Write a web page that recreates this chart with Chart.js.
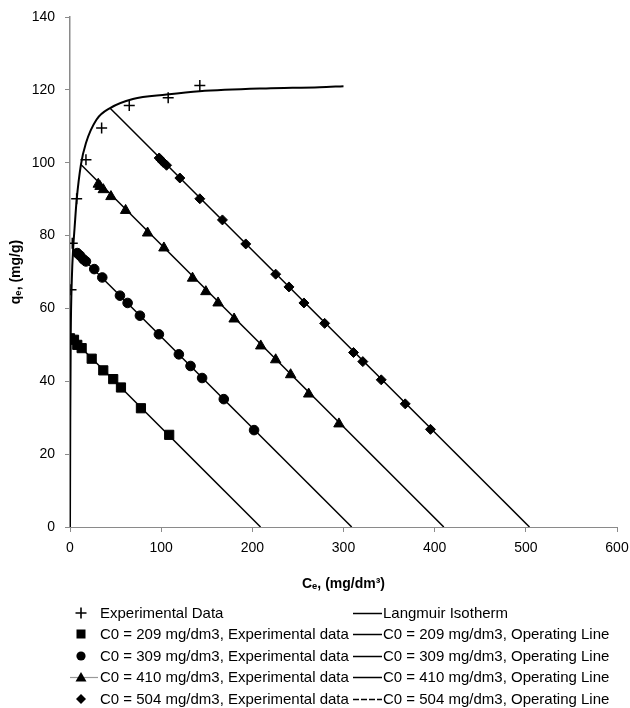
<!DOCTYPE html>
<html>
<head>
<meta charset="utf-8">
<title>Langmuir isotherm and operating lines</title>
<script src="https://cdn.jsdelivr.net/npm/chart.js@4.4.1/dist/chart.umd.min.js"></script>
<style>
  body { margin: 0; background: #fff; font-family: "Liberation Sans", Arial, sans-serif; }
  #wrap { position: relative; width: 630px; height: 708px; }
  #chart-box { position: absolute; left: 0; top: 0; width: 630px; height: 600px; }
  #legend { position: absolute; left: 0; top: 0; width: 630px; height: 708px; pointer-events: none; }
  .item { position: absolute; height: 22px; line-height: 22px; font-size: 15px; color: #000; white-space: nowrap; }
  .item svg { position: absolute; top: 0; }
</style>
</head>
<body>
<div id="wrap">
  <div id="chart-box"><canvas id="isotherm"></canvas></div>
  <div id="legend"></div>
</div>
<script>
// === DATOS ===
const xTicks = [0, 100, 200, 300, 400, 500, 600];
const yTicks = [0, 20, 40, 60, 80, 100, 120, 140];

// Experimental data (isotherm)
const isoExpC = [1.1, 2.5, 7.3, 17.5, 34.7, 65, 107.7, 142.4];
const isoExpQ = [65.1, 77.9, 90.1, 100.8, 109.5, 115.7, 117.8, 121.2];

// Langmuir isotherm curve
const langC = [0, 0.3, 0.8, 2, 3.6, 5, 7.3, 12, 17.5, 29, 44, 69, 106, 142, 215, 274, 300];
const langQ = [0, 30, 52, 68, 77, 82, 89.8, 99.5, 105.4, 111.8, 115, 117.5, 118.7, 119.6, 120.4, 120.7, 121];

// C0 = 209
const exp209C = [0, 4.4, 8, 12.8, 23.8, 36.5, 47.4, 55.9, 77.8, 108.8];
const exp209Q = [51.8, 51.4, 50, 49.1, 46.2, 43, 40.6, 38.3, 32.6, 25.3];
const op209C = [0.8, 209];
const op209Q = [52.1, 0];

// C0 = 309
const exp309C = [8, 11, 14.6, 17.5, 26.6, 35.4, 54.8, 63.2, 76.7, 97.5, 119.4, 132.2, 144.9, 168.7, 201.9];
const exp309Q = [75.2, 74.5, 73.5, 72.9, 70.8, 68.5, 63.5, 61.5, 58, 52.9, 47.4, 44.2, 40.9, 35.1, 26.6];
const op309C = [4.4, 309];
const op309Q = [76.1, 0];

// C0 = 410
const exp410C = [31, 32.9, 36.5, 44.9, 61, 85.1, 103, 134.4, 149, 162.4, 180, 209.2, 225.6, 242, 261.8, 295];
const exp410Q = [94.1, 93.5, 92.6, 90.7, 86.9, 80.7, 76.6, 68.3, 64.6, 61.5, 57.1, 49.7, 45.9, 41.8, 36.5, 28.3];
const op410C = [11.7, 410];
const op410Q = [99.6, 0];

// C0 = 504
const exp504C = [97.8, 100, 102.2, 105.9, 120.5, 142.4, 167.2, 192.8, 225.6, 240.2, 256.6, 279.3, 311, 321.2, 341.4, 367.7, 395.4];
const exp504Q = [101.3, 100.7, 100.1, 99.3, 95.8, 90.1, 84.3, 77.7, 69.4, 65.9, 61.5, 55.9, 47.9, 45.4, 40.4, 33.8, 26.8];
const op504C = [43.8, 504];
const op504Q = [115, 0];

function toXY(cs, qs) {
    return cs.map((c, i) => ({ x: c, y: qs[i] }));
}

function markers(label, cs, qs, style, radius) {
    return {
        label: label,
        data: toXY(cs, qs),
        showLine: false,
        pointStyle: style,
        pointRadius: radius,
        pointHoverRadius: radius,
        pointBackgroundColor: '#000',
        pointBorderColor: '#000',
        pointBorderWidth: style === 'cross' ? 1.5 : 1,
        order: 0
    };
}

function line(label, cs, qs, width) {
    return {
        label: label,
        data: toXY(cs, qs),
        showLine: true,
        borderColor: '#000',
        borderWidth: width,
        pointRadius: 0,
        pointHoverRadius: 0,
        fill: false,
        order: 1
    };
}

const langmuir = line('Langmuir Isotherm', langC, langQ, 2);
langmuir.cubicInterpolationMode = 'monotone';

const datasets = [
    markers('Experimental Data', isoExpC, isoExpQ, 'cross', 5.5),
    langmuir,
    markers('C0 = 209 mg/dm3, Experimental data', exp209C, exp209Q, 'rect', 6.5),
    line('C0 = 209 mg/dm3, Operating Line', op209C, op209Q, 1.5),
    markers('C0 = 309 mg/dm3, Experimental data', exp309C, exp309Q, 'circle', 4.8),
    line('C0 = 309 mg/dm3, Operating Line', op309C, op309Q, 1.5),
    markers('C0 = 410 mg/dm3, Experimental data', exp410C, exp410Q, 'triangle', 6),
    line('C0 = 410 mg/dm3, Operating Line', op410C, op410Q, 1.5),
    markers('C0 = 504 mg/dm3, Experimental data', exp504C, exp504Q, 'rectRot', 5),
    line('C0 = 504 mg/dm3, Operating Line', op504C, op504Q, 1.5)
];

const axisGray = '#8a8a8a';
const fontFam = '"Liberation Sans", Arial, sans-serif';

const chart = new Chart(document.getElementById('isotherm'), {
    type: 'scatter',
    data: { datasets: datasets },
    options: {
        responsive: true,
        maintainAspectRatio: false,
        animation: false,
        layout: { padding: { top: 17, right: 13, left: 0, bottom: 0 } },
        scales: {
            x: {
                type: 'linear',
                min: xTicks[0],
                max: xTicks[xTicks.length - 1],
                afterBuildTicks: (s) => { s.ticks = xTicks.map(v => ({ value: v })); },
                afterFit: (s) => { s.height = 73; s.paddingLeft = 0; s.paddingRight = 0; },
                grid: { drawOnChartArea: false, drawTicks: true, tickLength: 5, color: axisGray },
                border: { color: axisGray, width: 1 },
                ticks: { color: '#000', padding: 8, font: { family: fontFam, size: 14 } },
                title: {
                    display: true,
                    text: 'Cₑ, (mg/dm³)',
                    color: '#000',
                    font: { family: fontFam, size: 14, weight: 'bold' },
                    padding: { top: 0, bottom: 7 }
                }
            },
            y: {
                type: 'linear',
                min: yTicks[0],
                max: yTicks[yTicks.length - 1],
                afterBuildTicks: (s) => { s.ticks = yTicks.map(v => ({ value: v })); },
                afterFit: (s) => { s.width = 70; s.paddingTop = 0; s.paddingBottom = 0; },
                grid: { drawOnChartArea: false, drawTicks: true, tickLength: 5, color: axisGray },
                border: { color: axisGray, width: 1.5 },
                ticks: { color: '#000', padding: 10, font: { family: fontFam, size: 14 } },
                title: {
                    display: true,
                    text: 'qₑ, (mg/g)',
                    color: '#000',
                    font: { family: fontFam, size: 14, weight: 'bold' },
                    padding: { top: 8, bottom: 0 }
                }
            }
        },
        plugins: {
            legend: { display: false },
            tooltip: { enabled: false }
        }
    }
});

// === LEYENDA EN HTML (dos columnas) ===
function markerSvg(style) {
    let shape = '';
    if (style === 'cross') {
        shape = '<path d="M9 5.5V16.5M3.5 11H14.5" stroke="#000" stroke-width="1.6"/>';
    } else if (style === 'rect') {
        shape = '<rect x="4.5" y="6.5" width="9" height="9" fill="#000"/>';
    } else if (style === 'circle') {
        shape = '<circle cx="9" cy="11" r="4.6" fill="#000"/>';
    } else if (style === 'triangle') {
        shape = '<path d="M3.5 15.5L9 6L14.5 15.5Z" fill="#000"/>';
    } else if (style === 'rectRot') {
        shape = '<path d="M9 6L14 11L9 16L4 11Z" fill="#000"/>';
    }
    return shape;
}

const legendEl = document.getElementById('legend');
const rowCenters = [613, 634, 656, 677, 699];
for (let r = 0; r < 5; r++) {
    const expSet = datasets[r * 2];
    const lineSet = datasets[r * 2 + 1];
    const top = rowCenters[r] - 11;

    const left = document.createElement('div');
    left.className = 'item';
    left.style.left = '72px';
    left.style.top = top + 'px';
    let extra = '';
    if (expSet.pointStyle === 'triangle') {
        extra = '<path d="M-2 11.5H26" stroke="#999" stroke-width="1.2"/>';
    }
    left.innerHTML = '<svg width="28" height="22" style="left:0;overflow:visible">' + extra +
        markerSvg(expSet.pointStyle) + '</svg><span style="margin-left:28px">' + expSet.label + '</span>';
    legendEl.appendChild(left);

    const right = document.createElement('div');
    right.className = 'item';
    right.style.left = '353px';
    right.style.top = top + 'px';
    const dash = r === 4 ? ' stroke-dasharray="6 2"' : '';
    right.innerHTML = '<svg width="29" height="22" style="left:0"><path d="M0 11.5H29" stroke="#000" stroke-width="1.5"' +
        dash + '/></svg><span style="margin-left:30px">' + lineSet.label + '</span>';
    legendEl.appendChild(right);
}
</script>
</body>
</html>
